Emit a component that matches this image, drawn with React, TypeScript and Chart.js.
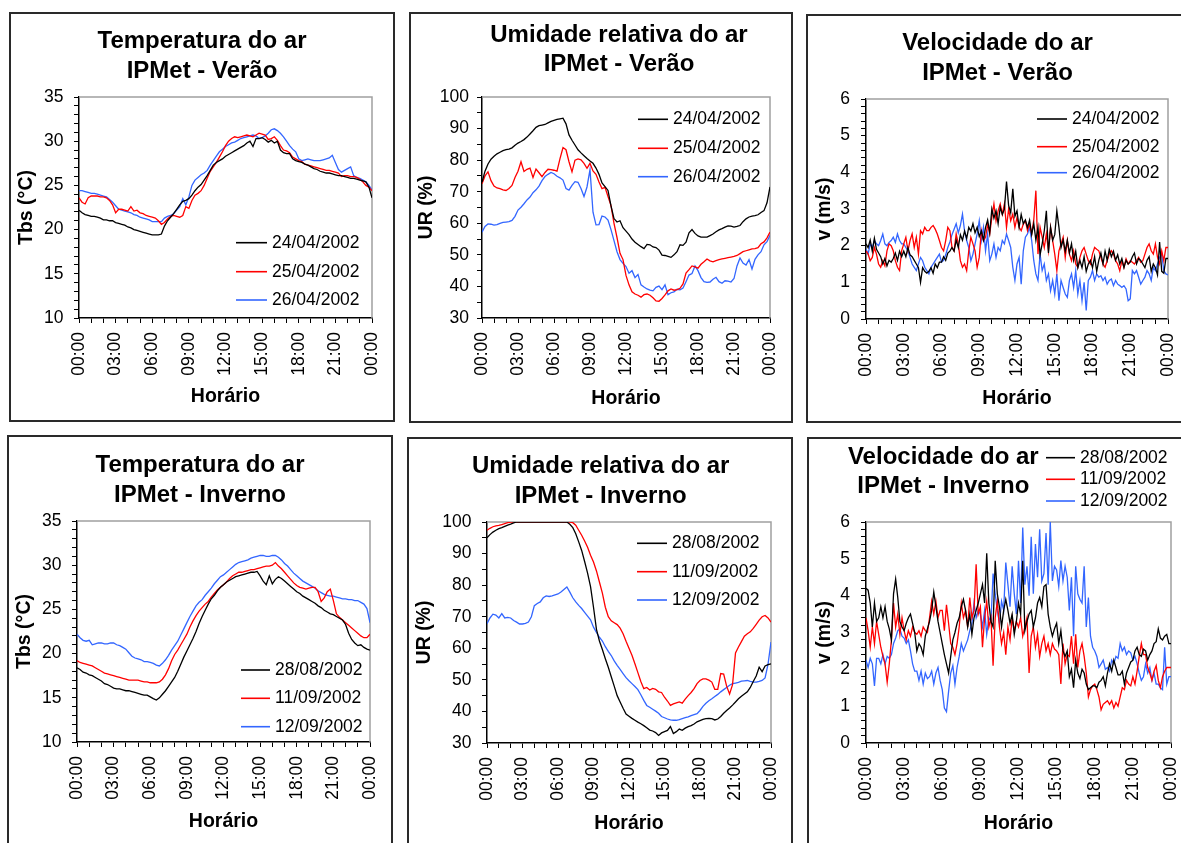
import React, { useEffect, useRef } from "react";
import { Chart, registerables } from "chart.js";

Chart.register(...registerables);

const FONT = "'Liberation Sans', Arial, Helvetica, sans-serif";
Chart.defaults.font.family = FONT;
Chart.defaults.color = "#000";

// ---------- categories / ticks ----------
const X_LABELS = ["00:00", "03:00", "06:00", "09:00", "12:00", "15:00", "18:00", "21:00", "00:00"];
const HOUR_TICKS = [0, 1, 2, 3, 4, 5, 6, 7, 8, 9, 10, 11, 12, 13, 14, 15, 16, 17, 18, 19, 20, 21, 22, 23, 24];
const T_TICKS = [10, 15, 20, 25, 30, 35];
const UR_TICKS = [30, 40, 50, 60, 70, 80, 90, 100];
const V_TICKS = [0, 1, 2, 3, 4, 5, 6];
const DATES_VERAO = ["24/04/2002", "25/04/2002", "26/04/2002"];
const DATES_INVERNO = ["28/08/2002", "11/09/2002", "12/09/2002"];
const COLORS = ["#000000", "#ff0000", "#3366ff"];
const STEP_15MIN = 0.25;
const STEP_10MIN = 1 / 6;

// ---------- Temperatura - Verão (every 15 min) ----------
const T_VERAO_24 = [
  22.2, 21.9, 21.7, 21.6, 21.5, 21.5, 21.4, 21.3, 21.1, 21.1, 21.0, 21.0,
  20.8, 20.7, 20.6, 20.5, 20.3, 20.2, 20.0, 19.9, 19.8, 19.7, 19.6, 19.5,
  19.4, 19.4, 19.4, 19.5, 20.4, 21.0, 21.4, 21.8, 22.3, 22.8, 23.2, 23.3,
  23.5, 23.9, 24.4, 24.8, 25.1, 25.6, 26.1, 26.7, 27.3, 27.6, 27.8, 28.0,
  28.3, 28.5, 28.7, 28.9, 29.1, 29.3, 29.5, 29.8, 30.0, 29.4, 30.3, 30.3,
  30.4, 30.2, 29.9, 30.1, 29.8, 30.0, 29.0, 28.7, 28.6, 28.6, 28.0, 27.8,
  27.7, 27.6, 27.4, 27.3, 27.1, 26.9, 26.8, 26.6, 26.5, 26.4, 26.4, 26.3,
  26.2, 26.1, 26.1, 26.0, 25.9, 25.8, 25.8, 25.7, 25.6, 25.5, 25.4, 24.8,
  23.6,
];
const T_VERAO_25 = [
  23.6, 23.1, 22.9, 23.6, 23.8, 23.8, 23.8, 23.7, 23.7, 23.6, 23.3, 22.8,
  21.9, 22.3, 22.3, 22.2, 22.1, 22.6, 22.1, 22.2, 21.9, 21.8, 21.6, 21.5,
  21.4, 21.3, 21.0, 20.6, 20.8, 21.2, 21.5, 21.6, 21.5, 21.4, 21.6, 22.6,
  22.4, 23.3, 23.9, 24.1, 24.4, 25.0, 25.8, 26.6, 27.1, 27.6, 28.2, 28.8,
  29.5, 30.0, 30.3, 30.5, 30.4, 30.5, 30.6, 30.7, 30.6, 30.5, 30.7, 30.9,
  30.8, 30.7, 30.2, 30.3, 30.5, 30.1, 29.5, 29.0, 28.9, 28.7, 28.2, 28.0,
  27.8, 27.7, 27.4, 27.3, 27.2, 27.1, 27.0, 26.9, 26.8, 26.7, 26.7, 26.6,
  26.5, 26.4, 26.0, 26.1, 26.1, 26.0, 26.0, 25.9, 25.7, 25.4, 25.0, 24.8,
  24.4,
];
const T_VERAO_26 = [
  24.4, 24.4, 24.3, 24.2, 24.1, 24.1, 24.0, 23.9, 23.8, 23.7, 23.4, 23.1,
  22.7, 22.3, 22.2, 22.1, 22.0, 21.9, 21.7, 21.6, 21.4, 21.3, 21.2, 21.1,
  20.9, 20.9, 20.9, 20.9, 21.3, 21.5, 21.6, 21.8, 22.2, 22.6, 23.5, 22.8,
  23.7, 25.0, 25.6, 25.9, 26.2, 26.4, 26.7, 27.3, 27.8, 28.3, 28.8, 29.1,
  29.4, 29.6, 29.8, 29.9, 30.1, 30.3, 30.4, 30.5, 30.6, 30.7, 30.6, 30.3,
  30.4, 30.6, 30.9, 31.3, 31.4, 31.2, 30.9, 30.5, 30.0, 29.5, 29.1, 28.8,
  28.0, 27.8, 27.9, 28.0, 27.9, 27.8, 27.8, 27.8, 27.9, 28.0, 28.1, 28.4,
  27.6, 26.8, 26.5, 26.7, 26.9, 27.1, 26.1, 25.9, 25.8, 25.6, 25.4, 25.0,
  24.5,
];

// ---------- Umidade relativa - Verão (every 15 min) ----------
const UR_VERAO_24 = [
  73.0, 76.5, 78.8, 80.3, 81.2, 82.0, 82.5, 83.0, 83.3, 83.5, 83.9, 84.7,
  85.4, 85.9, 86.5, 87.3, 88.3, 89.3, 90.4, 90.9, 91.1, 91.3, 91.8, 92.3,
  92.6, 92.9, 93.1, 93.3, 91.5, 88.0, 86.3, 84.8, 83.3, 82.3, 81.4, 80.5,
  79.7, 79.0, 77.5, 75.5, 72.8, 71.6, 70.4, 65.5, 61.5, 60.4, 60.8, 58.6,
  57.5, 56.4, 55.0, 54.0, 53.3, 52.6, 52.0, 53.3, 53.2, 52.5, 52.3, 51.5,
  49.9, 49.8, 49.5, 49.2, 50.0, 51.0, 53.2, 53.0, 54.0, 57.0, 58.0, 56.8,
  56.0, 55.6, 55.6, 55.6, 56.1, 56.6, 57.3, 57.9, 58.3, 58.8, 59.2, 59.1,
  58.8, 59.0, 59.3, 60.5, 61.4, 62.0, 62.3, 62.4, 62.7, 63.4, 64.0, 66.5,
  71.5,
];
const UR_VERAO_25 = [
  72.5, 75.0, 76.3, 73.5, 71.8, 71.2, 71.0, 70.6, 70.4, 71.0, 72.0, 74.5,
  76.5, 79.5, 76.4, 77.1, 77.5, 74.5, 77.2, 76.0, 74.8, 76.1, 77.1, 77.0,
  76.8, 76.5, 80.5, 84.0, 83.3, 79.5, 76.3, 80.0, 80.4, 80.1, 79.0, 77.4,
  79.0, 76.6, 75.5, 73.1, 71.0, 71.4, 68.5, 65.6, 60.0, 55.5, 50.5, 48.5,
  43.5, 40.5, 38.3, 37.6, 37.2, 36.6, 37.4, 37.6, 37.2, 36.4, 35.4, 35.3,
  36.2, 37.3, 38.6, 39.2, 38.8, 39.0, 39.4, 40.8, 44.2, 45.3, 46.5, 46.2,
  45.8, 47.0, 47.8, 48.7, 48.1, 47.8, 48.2, 48.5, 48.7, 48.9, 49.1, 49.3,
  49.5, 49.8, 50.4, 51.0, 51.3, 51.6, 51.9, 52.0, 52.3, 53.5, 54.1, 55.4,
  57.2,
];
const UR_VERAO_26 = [
  57.2, 59.0, 59.8, 59.7, 59.4, 59.6, 60.0, 60.3, 60.4, 60.5, 60.9, 62.2,
  64.2, 65.1, 66.2, 67.4, 68.3, 69.7, 70.6, 71.8, 73.5, 74.8, 75.5, 76.1,
  75.7, 74.9, 74.4, 73.7, 71.0, 70.5, 72.0, 73.2, 73.0, 71.0, 68.5, 71.5,
  77.0, 63.5, 59.5, 59.6, 62.3, 62.0, 61.0, 58.0, 54.5, 51.0, 48.5, 47.3,
  46.3, 44.2, 45.0, 42.8, 43.8, 40.5, 39.8, 39.2, 38.8, 38.6, 39.7, 40.1,
  39.0, 40.5, 37.4, 38.0, 38.3, 39.1, 38.9, 39.5, 41.5, 43.6, 44.1, 46.5,
  45.0, 42.8, 41.5, 41.3, 41.4, 42.3, 42.9, 41.5, 41.0, 41.8, 41.7, 41.4,
  42.5, 46.5, 49.0, 47.4, 46.8, 48.5, 45.5, 48.6, 50.0, 51.0, 53.2, 54.2,
  56.2,
];

// ---------- Velocidade - Verão (every 10 min) ----------
const V_VERAO_24 = [
  2.05, 1.95, 2.15, 1.85, 2.2, 1.9,
  1.8, 1.7, 1.5, 1.65, 1.45, 1.6,
  1.55, 1.65, 1.8, 1.6, 1.85, 1.7,
  1.85, 1.7, 1.95, 1.75, 1.7, 1.6,
  1.5, 1.4, 1.0, 1.4, 1.3, 1.25,
  1.3, 1.4, 1.25, 1.5, 1.4, 1.55,
  1.55, 1.7, 1.6, 1.8, 1.85, 1.95,
  1.85, 2.15, 1.95, 2.3, 2.15, 2.4,
  2.2, 2.5, 2.4, 2.6, 2.35, 2.5,
  2.25, 2.4, 2.15, 2.5, 2.7, 2.35,
  3.0, 2.75, 2.95, 2.6, 3.05, 2.85,
  3.0, 3.75, 3.1, 2.9, 3.55, 2.8,
  2.95, 2.5, 2.85, 2.6, 2.7, 2.5,
  2.7, 2.3, 2.6, 2.15, 2.5, 1.75,
  2.05, 2.4, 2.95, 1.8, 2.5, 2.15,
  2.3, 2.95, 2.5, 1.95, 2.15, 1.85,
  2.15, 1.8, 2.05, 1.6, 1.85, 1.4,
  1.6, 1.4, 1.7, 1.3, 1.5, 1.6,
  1.4, 1.7, 1.3, 1.6, 1.8, 1.5,
  1.85, 1.6, 1.9, 1.7, 1.85, 1.6,
  1.75, 1.5, 1.65, 1.4, 1.6, 1.5,
  1.55, 1.7, 1.8, 1.5, 1.65, 1.6,
  1.5, 1.4, 1.6, 1.7, 1.3, 1.5,
  1.4, 1.2, 2.1, 1.3, 1.25, 1.65,
  1.65,
];
const V_VERAO_25 = [
  1.86, 1.77, 1.59, 1.68, 1.95, 1.77,
  1.5, 1.41, 1.59, 1.45, 1.86, 2.05,
  2.0, 1.86, 1.59, 1.41, 1.32, 1.86,
  2.05, 2.23, 1.86, 2.14, 2.32, 1.95,
  2.23, 1.77, 2.41, 2.32, 2.5, 2.41,
  2.41, 2.5, 2.55, 2.45, 2.32, 2.14,
  1.95, 1.86, 2.14, 2.5, 2.41, 1.95,
  1.86, 2.32, 2.05, 1.59, 1.41, 1.5,
  1.32, 1.86, 2.23, 2.05, 1.86, 1.41,
  1.68, 2.41, 2.14, 2.23, 2.59, 2.32,
  2.77, 3.14, 2.68, 2.95, 3.14, 2.86,
  3.14, 2.5, 3.0, 2.68, 2.86, 2.5,
  2.77, 2.5, 2.41, 2.59, 2.68, 2.41,
  2.59, 2.32, 2.7, 3.5, 1.77, 2.5,
  2.23, 1.95, 2.32, 1.86, 2.5, 2.14,
  1.77, 1.32, 1.86, 2.05, 2.23, 1.68,
  2.14, 1.77, 1.59, 1.86, 1.5, 1.41,
  1.68, 1.86, 1.95, 1.77, 1.59, 1.5,
  1.77, 1.95, 1.9, 1.86, 1.68, 1.5,
  1.41, 1.59, 1.77, 1.86, 1.77, 1.59,
  1.5, 1.32, 1.59, 1.41, 1.64, 1.5,
  1.59, 1.55, 1.5, 1.59, 1.68, 1.55,
  1.59, 1.77, 1.95, 2.05, 1.86, 1.77,
  2.05, 1.68, 1.5, 1.86, 1.59, 1.95,
  1.95,
];
const V_VERAO_26 = [
  1.91, 1.77, 2.05, 1.95, 2.14, 2.05,
  2.0, 2.14, 2.32, 2.05, 2.0, 2.09,
  2.14, 2.23, 2.09, 2.32, 2.14, 2.05,
  2.05, 1.95, 1.86, 1.68, 1.5, 1.41,
  1.32, 1.5, 1.68, 1.59, 1.41, 1.32,
  1.23, 1.41, 1.5, 1.59, 1.68, 1.77,
  1.55, 1.6, 1.75, 1.95, 2.1, 2.3,
  2.45, 2.6, 2.35, 2.55, 2.86, 2.4,
  2.14, 1.95, 1.59, 1.77, 2.05, 2.32,
  2.68, 2.14, 2.5, 1.86, 2.32, 1.59,
  1.77, 2.05, 1.68, 1.95, 1.86, 2.14,
  2.05, 2.32, 2.14, 1.95, 1.41, 1.05,
  1.5, 1.68, 0.95, 1.86, 2.23, 2.32,
  2.5, 2.14, 1.59, 1.23, 1.05, 1.77,
  1.32, 1.5, 1.05, 1.23, 0.77, 1.05,
  0.68, 1.23, 0.5, 1.05, 0.86, 0.68,
  0.59, 1.05, 1.23, 0.86, 1.32, 0.68,
  1.05, 0.5, 1.0, 0.23, 1.05, 1.14,
  1.32, 1.05, 1.23, 1.14, 1.18, 1.05,
  1.14, 0.95, 1.05, 1.09, 0.91, 1.05,
  0.95, 0.91, 0.86, 0.91, 0.82, 0.5,
  0.55, 1.32, 1.23, 1.32, 1.14, 0.95,
  1.05, 1.14, 1.32, 1.23, 1.05, 1.41,
  1.32, 1.5, 1.68, 1.77, 1.32, 1.23,
  1.2,
];

// ---------- Temperatura - Inverno (every 15 min) ----------
const T_INVERNO_2808 = [
  18.4, 18.2, 17.9, 17.8, 17.6, 17.5, 17.3, 17.1, 16.9, 16.6, 16.5, 16.3,
  16.1, 16.0, 16.0, 15.9, 15.8, 15.8, 15.7, 15.6, 15.5, 15.4, 15.3, 15.3,
  15.1, 14.9, 14.75, 15.0, 15.4, 15.8, 16.3, 16.8, 17.3, 18.0, 18.8, 19.6,
  20.3, 21.0, 21.7, 22.5, 23.4, 24.2, 24.9, 25.6, 26.2, 26.6, 27.1, 27.5,
  27.8, 28.1, 28.3, 28.5, 28.7, 28.8, 28.9, 29.0, 29.1, 29.2, 29.2, 29.3,
  28.8, 28.2, 27.8, 28.8, 27.9, 28.4, 28.7, 28.5, 28.2, 27.9, 27.6, 27.3,
  27.0, 26.8, 26.5, 26.3, 26.1, 25.9, 25.7, 25.4, 25.2, 24.9, 24.7, 24.5,
  24.4, 24.2, 24.0, 23.8, 23.3, 22.3, 21.6, 21.2, 20.9, 21.0, 20.7, 20.5,
  20.4,
];
const T_INVERNO_1109 = [
  19.2, 19.0, 18.9, 18.8, 18.7, 18.6, 18.4, 18.2, 18.0, 17.8, 17.7, 17.6,
  17.5, 17.4, 17.3, 17.2, 17.1, 17.0, 17.0, 17.0, 17.0, 16.9, 16.8, 16.8,
  16.7, 16.7, 16.7, 16.8, 17.1, 17.6, 18.3, 19.2, 19.9, 20.4, 21.0, 21.6,
  22.2, 23.0, 23.7, 24.3, 24.8, 25.2, 25.6, 25.9, 26.4, 26.8, 27.2, 27.5,
  27.8, 28.1, 28.5, 28.8, 29.0, 29.2, 29.2, 29.3, 29.4, 29.5, 29.5, 29.6,
  29.7, 29.8, 29.9, 29.9, 30.0, 30.3, 29.9, 29.6, 29.2, 28.8, 28.4, 28.0,
  27.7, 27.5, 27.4, 27.3, 27.4, 27.5, 27.5, 27.0, 25.9, 26.3, 27.0, 27.3,
  26.0, 24.5, 24.1, 23.8, 23.5, 23.2, 22.9, 22.6, 22.3, 22.0, 21.8, 21.8,
  22.2,
];
const T_INVERNO_1209 = [
  22.2, 21.8, 21.5, 21.4, 21.5, 21.0, 21.1, 21.2, 21.2, 21.1, 21.1, 21.2,
  21.2, 21.0, 20.9, 20.7, 20.5, 20.1, 19.7, 19.5, 19.4, 19.3, 19.1, 19.1,
  19.0, 18.9, 18.7, 18.6, 18.9, 19.3, 19.8, 20.4, 20.9, 21.4, 22.1, 22.8,
  23.5, 24.2, 24.8, 25.4, 25.8, 26.1, 26.6, 27.0, 27.4, 27.9, 28.3, 28.7,
  28.9, 29.2, 29.5, 29.8, 30.1, 30.3, 30.4, 30.5, 30.6, 30.8, 30.9, 31.0,
  31.1, 31.1, 31.0, 31.0, 31.1, 31.1, 30.9, 30.6, 30.2, 29.9, 29.5, 29.1,
  28.8, 28.5, 28.2, 28.0, 27.8, 27.6, 27.4, 27.1, 26.9, 26.7, 26.6, 26.5,
  26.5, 26.4, 26.3, 26.2, 26.2, 26.1, 26.1, 26.0, 26.0, 25.8, 25.6, 25.1,
  23.5,
];

// ---------- Umidade relativa - Inverno (every 15 min) ----------
const UR_INVERNO_2808 = [
  95.0, 96.0, 96.8, 97.4, 97.9, 98.2, 98.6, 99.0, 99.3, 99.7, 100, 100,
  100, 100, 100, 100, 100, 100, 100, 100, 100, 100, 100, 100,
  100, 100, 100, 100, 99.3, 98.2, 96.3, 93.7, 91.0, 87.5, 83.8, 79.5,
  73.0, 66.0, 62.3, 59.6, 56.7, 54.0, 51.0, 48.0, 45.0, 43.0, 41.0, 39.2,
  38.5, 37.8, 37.2, 36.6, 36.1, 35.5, 34.8, 34.1, 33.8, 33.3, 32.4, 33.2,
  33.6, 34.0, 35.2, 33.0, 33.6, 34.4, 34.0, 34.7, 35.2, 35.5, 36.0, 36.7,
  37.1, 37.5, 37.7, 37.8, 37.7, 37.3, 37.6, 38.4, 39.4, 40.3, 41.1, 42.0,
  43.0, 44.0, 44.8, 45.5, 46.2, 47.6, 49.5, 51.2, 54.0, 52.6, 54.4, 54.8,
  55.1,
];
const UR_INVERNO_1109 = [
  97.4, 98.0, 98.5, 98.8, 98.9, 99.2, 99.5, 99.8, 100, 100, 100, 100,
  100, 100, 100, 100, 100, 100, 100, 100, 100, 100, 100, 100,
  100, 100, 100, 100, 100, 99.8, 99.0, 97.4, 95.8, 94.0, 92.0, 89.5,
  87.3, 84.5, 81.0, 77.5, 73.0, 70.0, 68.7, 68.1, 67.5, 66.4, 64.6, 62.2,
  60.0, 57.8, 55.1, 52.3, 49.5, 47.2, 47.6, 46.8, 47.3, 47.0, 46.2, 46.0,
  44.5, 43.3, 41.9, 42.4, 42.7, 43.0, 42.6, 43.9, 45.0, 46.0, 47.2, 48.8,
  49.8, 50.3, 50.3, 49.9, 49.3, 47.0, 47.0, 52.0, 51.8, 48.0, 45.5, 48.5,
  58.5, 60.4, 62.1, 63.8, 64.6, 65.2, 66.3, 67.6, 68.9, 70.0, 70.4, 69.6,
  68.3,
];
const UR_INVERNO_1209 = [
  67.8, 69.6, 70.8, 70.5, 69.6, 71.0, 69.6, 69.8, 69.6, 68.8, 68.3, 67.7,
  67.7, 67.9, 68.3, 70.0, 73.5, 74.2, 74.7, 76.0, 76.6, 76.4, 76.6, 76.9,
  77.2, 77.8, 78.6, 79.4, 77.8, 76.0, 74.7, 73.6, 72.6, 71.4, 70.2, 69.0,
  66.7, 65.0, 63.5, 62.3, 60.5, 59.0, 57.7, 56.0, 54.6, 53.3, 52.0, 50.7,
  49.7, 48.8, 47.9, 46.9, 45.3, 43.5, 41.9, 41.3, 40.7, 40.1, 39.4, 38.4,
  38.0, 37.6, 37.3, 37.2, 37.2, 37.4, 37.7, 38.0, 38.3, 38.7, 39.0, 39.3,
  40.3, 41.6, 42.6, 43.4, 44.0, 44.7, 45.4, 46.2, 46.9, 47.6, 48.3, 48.8,
  49.0, 49.2, 49.6, 49.7, 49.8, 49.5, 49.3, 49.3, 49.5, 49.8, 50.6, 55.0,
  62.0,
];

// ---------- Velocidade - Inverno (every 10 min) ----------
const V_INVERNO_2808 = [
  4.2, 4.15, 3.8, 3.15, 3.8, 3.3,
  3.4, 3.7, 3.4, 3.7, 3.3, 3.1,
  2.8, 4.05, 4.45, 3.95, 3.3, 3.15,
  3.05, 3.25, 3.4, 3.5, 3.25, 3.0,
  2.5, 2.7, 2.6, 2.4, 2.9, 3.1,
  3.3, 3.6, 4.1, 3.7, 3.3, 3.0,
  2.7, 2.4, 2.15, 1.9, 2.35, 2.8,
  3.0, 3.25, 3.4, 3.7, 3.9, 3.6,
  3.15, 3.5, 2.95, 3.4, 3.6, 3.8,
  4.05, 4.3, 3.8, 5.15, 3.8, 3.3,
  3.15, 4.95, 4.05, 3.7, 3.15, 3.6,
  3.9, 3.6, 3.25, 3.5, 2.95, 3.3,
  3.8, 3.5, 4.95, 3.05, 3.3, 3.5,
  3.6, 3.15, 3.4, 3.8, 3.95, 3.7,
  4.25, 4.3, 3.5, 3.15, 2.9, 3.1,
  3.25, 2.7, 3.05, 2.5, 2.35, 2.5,
  1.8, 2.0, 1.5, 2.25, 1.9, 1.75,
  2.0, 1.9, 1.6, 1.45, 1.5, 1.55,
  1.55, 1.5, 1.65, 1.7, 1.8, 1.55,
  1.9, 2.15, 1.95, 2.25, 2.05, 1.85,
  1.85, 1.95, 1.6, 1.9, 2.05, 2.2,
  2.25, 2.5, 2.6, 2.4, 2.35, 2.55,
  2.5, 2.25, 2.4, 2.5, 2.7, 2.75,
  3.1, 2.85, 2.8, 2.9, 2.95, 2.7,
  2.7,
];
const V_INVERNO_1109 = [
  3.4, 3.05, 2.6, 3.15, 2.7, 3.3,
  2.95, 2.6, 2.35, 2.15, 1.65, 2.15,
  2.8, 3.8, 3.15, 3.5, 2.95, 3.4,
  3.05, 2.8, 3.05, 2.9, 3.15, 3.0,
  2.95, 3.05, 2.9, 3.15, 3.05, 3.0,
  3.4, 3.85, 3.5, 3.85, 3.4, 3.6,
  3.6, 3.05, 3.75, 3.25, 2.7, 2.6,
  2.4, 2.7, 3.15, 3.8, 3.4, 3.6,
  3.15, 3.95, 3.4, 3.6, 4.85, 3.5,
  3.7, 2.6, 3.4, 3.85, 3.15, 3.4,
  2.1, 3.4, 3.85, 3.15, 2.7, 3.0,
  2.4, 3.15, 2.8, 3.4, 3.05, 3.3,
  3.15, 3.4, 2.9, 3.15, 3.4, 1.9,
  2.9, 3.15, 2.6, 2.95, 2.35, 2.7,
  2.9, 2.5, 2.7, 2.4, 2.7, 2.55,
  2.5, 2.4, 1.6, 2.7, 2.15, 2.4,
  2.35, 2.9, 2.15, 2.95, 2.05, 2.5,
  2.7, 2.35, 1.9, 1.25, 1.45, 1.55,
  1.6, 1.45, 1.25, 0.9, 1.05, 1.1,
  1.15, 1.05, 1.15, 0.95, 1.1, 1.0,
  1.25, 1.5, 1.45, 1.7, 1.6, 1.55,
  1.8, 1.6, 1.95, 2.35, 2.7, 2.4,
  2.4, 2.05, 1.9, 1.7, 1.95, 2.1,
  1.7, 1.5, 1.8, 1.95, 2.05, 2.05,
  2.05,
];
const V_INVERNO_1209 = [
  2.25, 2.05, 2.3, 2.15, 1.55, 2.3,
  2.3, 2.15, 2.4, 2.15, 2.35, 2.3,
  2.4, 2.7, 2.85, 3.05, 3.1, 2.9,
  2.85, 2.7, 2.8, 2.5, 2.15, 1.95,
  1.95, 1.7, 1.95, 1.6, 1.9, 1.75,
  1.8, 1.95, 1.6, 1.9, 2.05, 1.7,
  1.45, 0.95, 0.85, 1.4, 1.9, 2.1,
  1.6, 2.05, 2.35, 2.7, 2.5, 2.65,
  2.8, 3.05, 3.25, 3.8, 3.4, 3.6,
  3.5, 3.15, 3.6, 2.95, 3.4, 3.3,
  4.6, 4.05, 3.6, 3.25, 3.85, 3.6,
  4.9, 4.3, 3.7, 4.8, 4.05, 3.5,
  4.95, 3.8, 5.85, 4.3, 4.8, 4.0,
  5.6, 4.05, 5.4, 4.5, 5.8, 4.4,
  4.6, 5.7, 4.3, 6.0, 4.4, 4.8,
  4.7, 4.25, 4.95, 4.4, 4.8, 4.5,
  3.6, 4.5, 2.9, 4.8, 4.05, 3.9,
  3.8, 4.8, 3.15, 3.95, 2.9, 2.6,
  2.5, 2.35, 2.05, 2.15, 2.25, 2.0,
  2.05, 1.95, 2.25, 2.15, 2.35, 2.3,
  2.7, 2.5, 2.6, 2.4, 2.5, 2.45,
  2.25, 2.35, 2.15, 1.9, 1.7, 1.8,
  2.15, 1.9, 2.05, 1.7, 1.9, 1.6,
  1.6, 1.5, 1.45, 2.6, 1.6, 1.8,
  1.8,
];

// ---------- panel layout (page coordinates) ----------
const T_AXIS = { min: 10, max: 35, minor: 1, major: T_TICKS };
const UR_AXIS = { min: 30, max: 100, minor: 5, major: UR_TICKS };
const V_AXIS = { min: 0, max: 6, minor: 0.2, major: V_TICKS };

const PANELS = [
  {
    id: "tv", box: [9, 12, 386, 410], area: [79, 97, 372, 318],
    titles: [["Temperatura do ar", 202, 41.7], ["IPMet - Verão", 202, 71.5]],
    yTitle: "Tbs (°C)", yTitleX: 27, xTitleY: 397, tickPad: 10.5, axis: T_AXIS,
    legend: { x1: 236, x2: 267, tx: 272, ys: [242.7, 271.7, 300] },
    labels: DATES_VERAO, series: [T_VERAO_24, T_VERAO_25, T_VERAO_26], step: STEP_15MIN,
  },
  {
    id: "uv", box: [409, 12, 384, 411], area: [482, 97, 770, 318],
    titles: [["Umidade relativa do ar", 619, 35], ["IPMet - Verão", 619, 64.7]],
    yTitle: "UR (%)", yTitleX: 427, xTitleY: 398.3, tickPad: 8, axis: UR_AXIS,
    legend: { x1: 638, x2: 668, tx: 673, ys: [119.3, 148.3, 176.7] },
    labels: DATES_VERAO, series: [UR_VERAO_24, UR_VERAO_25, UR_VERAO_26], step: STEP_15MIN,
  },
  {
    id: "vv", box: [806, 14, 380, 409], area: [866, 99, 1168, 319],
    titles: [["Velocidade do ar", 997.5, 43.3], ["IPMet - Verão", 997.5, 73.3]],
    yTitle: "v (m/s)", yTitleX: 825, xTitleY: 398.3, tickPad: 11, axis: V_AXIS,
    legend: { x1: 1037, x2: 1067, tx: 1072, ys: [119, 146.7, 172.7] },
    labels: DATES_VERAO, series: [V_VERAO_24, V_VERAO_25, V_VERAO_26], step: STEP_10MIN,
  },
  {
    id: "ti", box: [7, 435, 386, 420], area: [77, 521, 370, 742],
    titles: [["Temperatura do ar", 200, 465], ["IPMet - Inverno", 200, 495]],
    yTitle: "Tbs (°C)", yTitleX: 25, xTitleY: 822, tickPad: 10.5, axis: T_AXIS,
    legend: { x1: 241, x2: 270, tx: 275, ys: [670, 698.3, 726.7] },
    labels: DATES_INVERNO, series: [T_INVERNO_2808, T_INVERNO_1109, T_INVERNO_1209], step: STEP_15MIN,
  },
  {
    id: "ui", box: [407, 437, 386, 420], area: [487, 522, 771, 743],
    titles: [["Umidade relativa do ar", 600.7, 466.7], ["IPMet - Inverno", 600.7, 496]],
    yTitle: "UR (%)", yTitleX: 425, xTitleY: 823.3, tickPad: 10.5, axis: UR_AXIS,
    legend: { x1: 637, x2: 667, tx: 672, ys: [543.3, 571.7, 600] },
    labels: DATES_INVERNO, series: [UR_INVERNO_2808, UR_INVERNO_1109, UR_INVERNO_1209], step: STEP_15MIN,
  },
  {
    id: "vi", box: [807, 437, 380, 420], area: [866, 522, 1171, 743],
    titles: [["Velocidade do ar", 943.3, 457], ["IPMet - Inverno", 943.3, 486.7]],
    yTitle: "v (m/s)", yTitleX: 825, xTitleY: 823.3, tickPad: 11, axis: V_AXIS,
    legend: { x1: 1046, x2: 1075, tx: 1080, ys: [457.7, 479.3, 501] },
    labels: DATES_INVERNO, series: [V_INVERNO_2808, V_INVERNO_1109, V_INVERNO_1209], step: STEP_10MIN,
  },
];

const TICK_FONT = 17.5;
const AXIS_TITLE_FONT = 19.5;
const TITLE_FONT = 24;

function makeDeco(p: any) {
  const bx = p.box[0];
  const by = p.box[1];
  return {
    id: "deco_" + p.id,
    beforeDatasetsDraw(chart: any) {
      const { ctx, chartArea: a } = chart;
      ctx.save();
      ctx.strokeStyle = "#a0a0a0";
      ctx.lineWidth = 1.5;
      ctx.beginPath();
      ctx.moveTo(a.left, a.top);
      ctx.lineTo(a.right, a.top);
      ctx.lineTo(a.right, a.bottom);
      ctx.stroke();
      ctx.restore();
    },
    afterDraw(chart: any) {
      const ctx = chart.ctx;
      ctx.save();
      ctx.fillStyle = "#000";
      ctx.textBaseline = "middle";
      ctx.textAlign = "center";
      ctx.font = `bold ${TITLE_FONT}px ${FONT}`;
      p.titles.forEach((t: any) => ctx.fillText(t[0], t[1] - bx, t[2] - by));
      ctx.textAlign = "left";
      ctx.font = `${TICK_FONT}px ${FONT}`;
      chart.data.datasets.forEach((ds: any, i: number) => {
        const y = p.legend.ys[i] - by;
        ctx.strokeStyle = ds.borderColor;
        ctx.lineWidth = 1.6;
        ctx.beginPath();
        ctx.moveTo(p.legend.x1 - bx, y);
        ctx.lineTo(p.legend.x2 - bx, y);
        ctx.stroke();
        ctx.fillStyle = "#000";
        ctx.fillText(ds.label, p.legend.tx - bx, y);
      });
      ctx.restore();
    },
  };
}

function Panel({ p }: { p: any }) {
  const ref = useRef<HTMLCanvasElement | null>(null);
  const [bx, by, bw, bh] = p.box;
  useEffect(() => {
    const [al, at, ar, ab] = p.area;
    const yW = al - bx;
    const padTop = at - by;
    const padRight = bx + bw - ar;
    const xH = by + bh - ab;
    const halfLine = (AXIS_TITLE_FONT * 1.2) / 2;
    const yTitlePad = p.yTitleX - bx - halfLine;
    const xTitlePad = by + bh - p.xTitleY - halfLine;
    const ax = p.axis;
    const nMinor = Math.round((ax.max - ax.min) / ax.minor);
    const minorTicks: number[] = [];
    for (let i = 0; i <= nMinor; i++) minorTicks.push(Math.round((ax.min + i * ax.minor) * 1000) / 1000);

    const chart = new Chart(ref.current as HTMLCanvasElement, {
      type: "line",
      data: {
        datasets: p.series.map((s: number[], i: number) => ({
          label: p.labels[i],
          data: s.map((v, j) => ({ x: j * p.step, y: v })),
          borderColor: COLORS[i],
          backgroundColor: COLORS[i],
          borderWidth: 1.3,
          pointRadius: 0,
          tension: 0,
          fill: false,
        })),
      },
      options: {
        animation: false,
        responsive: false,
        devicePixelRatio: 1,
        events: [],
        layout: { padding: { top: padTop, right: padRight, left: 0, bottom: 0 } },
        plugins: {
          legend: { display: false },
          tooltip: { enabled: false },
          title: { display: false },
        },
        scales: {
          x: {
            type: "linear",
            min: 0,
            max: 24,
            afterBuildTicks: (s: any) => {
              s.ticks = HOUR_TICKS.map((v) => ({ value: v }));
            },
            afterFit: (s: any) => {
              s.height = xH;
              s.paddingLeft = 0;
              s.paddingRight = 0;
            },
            ticks: {
              autoSkip: false,
              minRotation: 90,
              maxRotation: 90,
              padding: 9,
              color: "#000",
              font: { size: TICK_FONT },
              callback: (v: any) => (v % 3 === 0 ? X_LABELS[v / 3] : ""),
            },
            grid: { drawOnChartArea: false, drawTicks: true, tickLength: 5, tickColor: "#000", tickWidth: 1 },
            border: { display: true, color: "#000", width: 1.5 },
            title: {
              display: true,
              text: "Horário",
              color: "#000",
              font: { size: AXIS_TITLE_FONT, weight: "bold" },
              padding: { top: 0, bottom: xTitlePad },
            },
          },
          y: {
            type: "linear",
            min: ax.min,
            max: ax.max,
            afterBuildTicks: (s: any) => {
              s.ticks = minorTicks.map((v) => ({ value: v }));
            },
            afterFit: (s: any) => {
              s.width = yW;
              s.paddingTop = 0;
              s.paddingBottom = 0;
            },
            ticks: {
              autoSkip: false,
              padding: p.tickPad,
              color: "#000",
              font: { size: TICK_FONT },
              callback: (v: any) => (ax.major.some((m: number) => Math.abs(m - v) < 1e-6) ? String(Math.round(v)) : ""),
            },
            grid: { drawOnChartArea: false, drawTicks: true, tickLength: 5, tickColor: "#000", tickWidth: 1 },
            border: { display: true, color: "#000", width: 1.5 },
            title: {
              display: true,
              text: p.yTitle,
              color: "#000",
              font: { size: AXIS_TITLE_FONT, weight: "bold" },
              padding: { top: yTitlePad, bottom: 0 },
            },
          },
        },
      },
      plugins: [makeDeco(p)],
    } as any);
    return () => chart.destroy();
  }, []);

  return (
    <div style={{ position: "absolute", left: bx, top: by, width: bw, height: bh }}>
      <div
        style={{
          position: "absolute",
          left: 0,
          top: 0,
          width: bw,
          height: bh,
          boxSizing: "border-box",
          border: "2px solid #2a2a2a",
        }}
      />
      <canvas
        ref={ref}
        width={bw}
        height={bh}
        style={{ position: "absolute", left: 0, top: 0, width: bw, height: bh }}
      />
    </div>
  );
}

export default function App() {
  return (
    <div
      style={{
        position: "fixed",
        left: 0,
        top: 0,
        width: 1181,
        height: 843,
        overflow: "hidden",
        background: "#fff",
      }}
    >
      {PANELS.map((p) => (
        <Panel key={p.id} p={p} />
      ))}
    </div>
  );
}
